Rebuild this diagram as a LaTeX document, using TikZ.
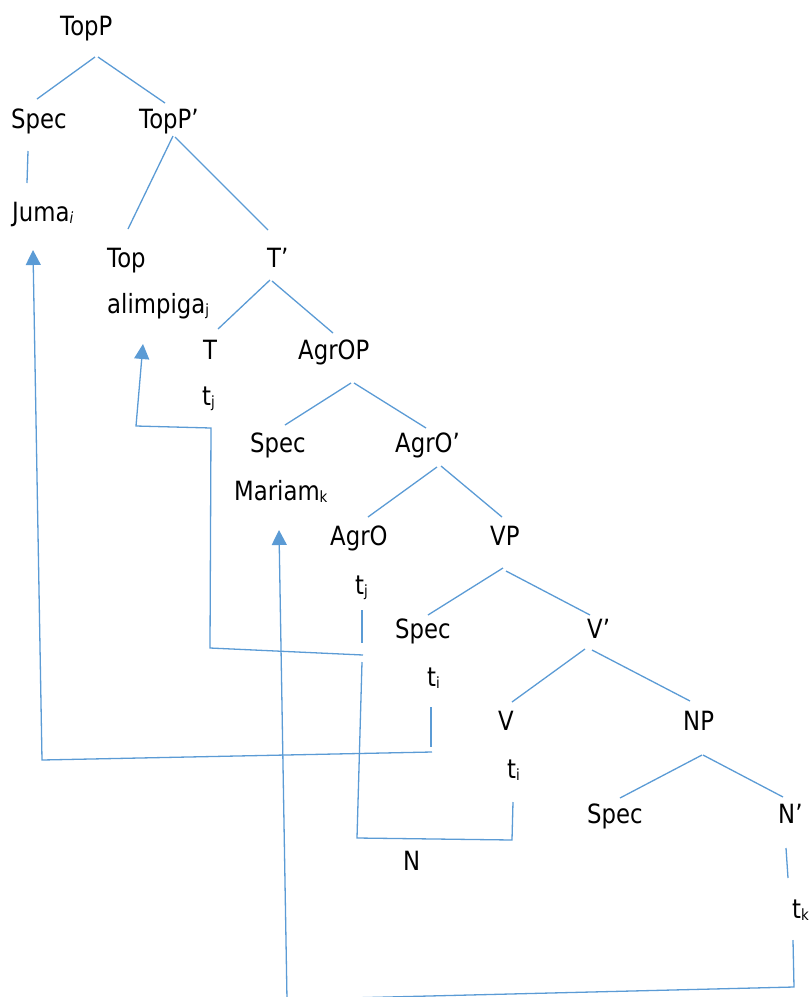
\documentclass[tikz,border=0pt]{standalone}
\usepackage{fontspec}
\setmainfont{DejaVu Sans}[FakeStretch=0.86]
\usetikzlibrary{arrows.meta}
\definecolor{treeblue}{RGB}{91,155,213}
\newcommand{\sbx}[1]{\raisebox{-2.5pt}{\fontsize{15.5}{15.5}\selectfont #1}}
\begin{document}
\begin{tikzpicture}[x=1pt,y=-1pt,
  lbl/.style={anchor=base west,inner sep=0pt,font=\fontsize{26.5}{26.5}\selectfont,text=black},
  tl/.style={draw=treeblue,line width=1.3pt},
  mv/.style={draw=treeblue,line width=1.3pt},
  mvarrow/.style={draw=treeblue,line width=1.3pt,-{Triangle[length=15pt,width=15pt,fill=treeblue]}}]
\useasboundingbox (0,0) rectangle (812,997);
\clip (0,0) rectangle (812,997);
% nodes
\node[lbl] (topp) at (60,35) {TopP};
\node[lbl] (spec1) at (11,128) {Spec};
\node[lbl] (toppb) at (139,128) {TopP’};
\node[lbl] (juma) at (12,221) {Juma\sbx{\textit{i}}};
\node[lbl] (top) at (107,267) {Top};
\node[lbl] (tb) at (267,267) {T’};
\node[lbl] (alim) at (107,313) {alimpiga\sbx{j}};
\node[lbl] (t) at (203,359) {T};
\node[lbl] (agrop) at (298,359) {AgrOP};
\node[lbl] (tj1) at (202,405) {t\sbx{j}};
\node[lbl] (spec2) at (250,452) {Spec};
\node[lbl] (agrob) at (395,452) {AgrO’};
\node[lbl] (mariam) at (234,500) {Mariam\sbx{k}};
\node[lbl] (agro) at (330,545) {AgrO};
\node[lbl] (vp) at (490,545) {VP};
\node[lbl] (tj2) at (355,594) {t\sbx{j}};
\node[lbl] (spec3) at (395,638) {Spec};
\node[lbl] (vb) at (587,638) {V’};
\node[lbl] (ti1) at (427,686) {t\sbx{i}};
\node[lbl] (v) at (498,730) {V};
\node[lbl] (np) at (683,730) {NP};
\node[lbl] (ti2) at (507,778) {t\sbx{i}};
\node[lbl] (spec4) at (587,823) {Spec};
\node[lbl] (nb) at (778,823) {N’};
\node[lbl] (n) at (403,870) {N};
\node[lbl] (tk) at (792,918) {t\sbx{k}};
% tree branches
\draw[tl] ([shift={(35,22)}]topp.base west) -- ([shift={(26,-29)}]spec1.base west);
\draw[tl] ([shift={(38,22)}]topp.base west) -- ([shift={(26,-25)}]toppb.base west);
\draw[tl] ([shift={(17,23)}]spec1.base west) -- ([shift={(15,-38)}]juma.base west);
\draw[tl] ([shift={(34,8)}]toppb.base west) -- ([shift={(21,-38)}]top.base west);
\draw[tl] ([shift={(36,9)}]toppb.base west) -- ([shift={(1,-37)}]tb.base west);
\draw[tl] ([shift={(3,13)}]tb.base west) -- ([shift={(15,-30)}]t.base west);
\draw[tl] ([shift={(5,14)}]tb.base west) -- ([shift={(35,-26)}]agrop.base west);
\draw[tl] ([shift={(53,24)}]agrop.base west) -- ([shift={(35,-27)}]spec2.base west);
\draw[tl] ([shift={(56,24)}]agrop.base west) -- ([shift={(31,-24)}]agrob.base west);
\draw[tl] ([shift={(42,15)}]agrob.base west) -- ([shift={(38,-28)}]agro.base west);
\draw[tl] ([shift={(46,14)}]agrob.base west) -- ([shift={(12,-28)}]vp.base west);
\draw[tl] ([shift={(13,23)}]vp.base west) -- ([shift={(33,-23)}]spec3.base west);
\draw[tl] ([shift={(16,26)}]vp.base west) -- ([shift={(3,-23)}]vb.base west);
\draw[tl] ([shift={(-2,11)}]vb.base west) -- ([shift={(14,-28)}]v.base west);
\draw[tl] ([shift={(5,12)}]vb.base west) -- ([shift={(7,-29)}]np.base west);
\draw[tl] ([shift={(19,25)}]np.base west) -- ([shift={(33,-25)}]spec4.base west);
\draw[tl] ([shift={(20,25)}]np.base west) -- ([shift={(5,-26)}]nb.base west);
\draw[tl] ([shift={(8,25)}]nb.base west) -- ([shift={(-4,-40)}]tk.base west);
% movement: Juma
\draw[mv] ([shift={(4,21)}]ti1.base west) -- ([shift={(4,61)}]ti1.base west);
\draw[mvarrow] ([shift={(5,66)}]ti1.base west) -- ([shift={(30,539)}]juma.base west) -- ([shift={(21,29)}]juma.base west);
% movement: alimpiga
\draw[mv] ([shift={(7,16)}]tj2.base west) -- ([shift={(7,49)}]tj2.base west);
\draw[mvarrow] ([shift={(8,61)}]tj2.base west) -- ([shift={(8,243)}]tj1.base west) -- ([shift={(9,23)}]tj1.base west) -- ([shift={(-66,21)}]tj1.base west) -- ([shift={(36,31)}]alim.base west);
% movement: V to N
\draw[mv] ([shift={(7,68)}]tj2.base west) -- ([shift={(-46,-32)}]n.base west) -- ([shift={(5,62)}]ti2.base west) -- ([shift={(6,24)}]ti2.base west);
% movement: Mariam
\draw[mvarrow] ([shift={(1,22)}]tk.base west) -- ([shift={(2,69)}]tk.base west) -- ([shift={(53,499.5)}]mariam.base west) -- ([shift={(45,30)}]mariam.base west);
\end{tikzpicture}
\end{document}
